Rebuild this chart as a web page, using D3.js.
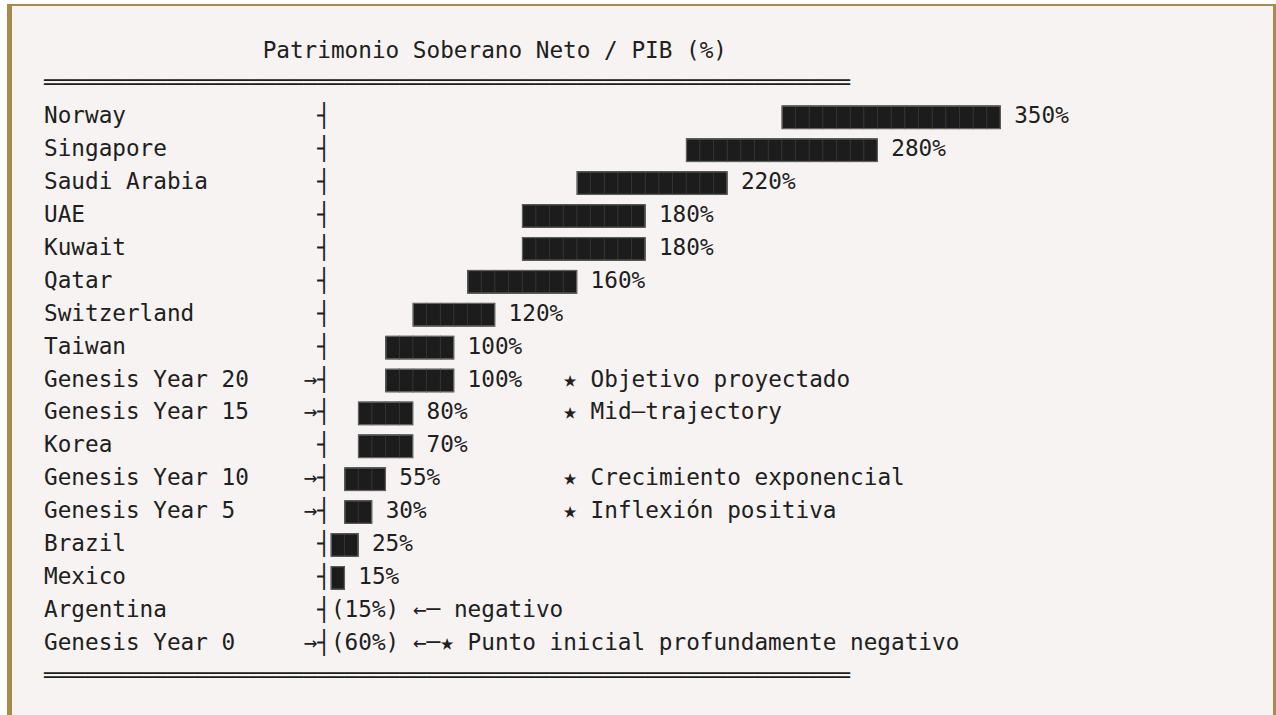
<!DOCTYPE html>
<html>
<head>
<meta charset="utf-8">
<script src="https://cdn.jsdelivr.net/npm/d3@7"></script>
<style>
    body { margin: 0; background: #ffffff; }
    svg { display: block; }
    text { font-family: "DejaVu Sans Mono", monospace; font-size: 22.7px; fill: #202020; white-space: pre; }
</style>
</head>
<body>
<svg></svg>
<script>
// *** Data ***
var title = "Patrimonio Soberano Neto / PIB (%)";
var countries = ["Norway", "Singapore", "Saudi Arabia", "UAE", "Kuwait", "Qatar", "Switzerland", "Taiwan",
    "Genesis Year 20", "Genesis Year 15", "Korea", "Genesis Year 10", "Genesis Year 5", "Brazil", "Mexico",
    "Argentina", "Genesis Year 0"];
var values = [350, 280, 220, 180, 180, 160, 120, 100, 100, 80, 70, 55, 30, 25, 15, -15, -60];
var blocks = [16, 14, 11, 9, 9, 8, 6, 5, 5, 4, 4, 3, 2, 2, 1, 0, 0]; // number of █ cells per bar
var offsets = [33, 26, 18, 14, 14, 10, 6, 4, 4, 2, 2, 1, 1, 0, 0, 0, 0]; // leading blank cells before the bar
var notes = ["", "", "", "", "", "", "", "", "★ Objetivo proyectado", "★ Mid–trajectory", "",
    "★ Crecimiento exponencial", "★ Inflexión positiva", "", "", "←─ negativo",
    "←─★ Punto inicial profundamente negativo"];

var svgWidth = 1276, svgHeight = 715;
var lineHeight = 32.9, axisCol = 20, noteCol = 38, ruleLength = 59;

var svg = d3.select("svg")
    .attr("width", svgWidth)
    .attr("height", svgHeight);

// panel with gold border (left, top, right)
svg.append("rect").attr("x", 7).attr("y", 4).attr("width", 1269).attr("height", 711).attr("fill", "#a88a4b");
svg.append("rect").attr("x", 12).attr("y", 6).attr("width", 1261).attr("height", 709).attr("fill", "#f6f3f2");

// column -> x pixel (monospace cells), line -> baseline
var x = d3.scaleLinear().domain([0, 1]).range([44, 44 + 13.665]);
var line = d3.scaleLinear().domain([0, 1]).range([57.5, 57.5 + lineHeight]);
var y = d3.scalePoint()
    .domain(countries)
    .range([line(2), line(2 + countries.length - 1)]);

var rows = countries.map(function (d, i) {
    return { name: d, value: values[i], blocks: blocks[i], offset: offsets[i], note: notes[i] };
});

// title and double rules
svg.append("text").attr("x", x(16)).attr("y", line(0)).text(title);
[1, 2 + countries.length].forEach(function (l) {
    svg.append("text").attr("x", x(0)).attr("y", line(l)).text("═".repeat(ruleLength));
});

var g = svg.selectAll("g.row")
    .data(rows)
    .enter()
    .append("g")
    .attr("class", "row");

// category labels
g.append("text")
    .attr("x", x(0))
    .attr("y", function (d) { return y(d.name); })
    .text(function (d) { return d.name; });

// axis tick (with arrow for the Genesis trajectory)
g.append("text")
    .attr("x", x(axisCol - 1))
    .attr("y", function (d) { return y(d.name); })
    .text(function (d) { return (d.name.indexOf("Genesis") === 0 ? "→" : " ") + "┤"; });

// bars, one rect per block cell
var cellW = x(1) - x(0);
g.selectAll("rect.cell")
    .data(function (d) {
        return d3.range(d.blocks).map(function (k) { return { row: d, col: axisCol + 1 + d.offset + k }; });
    })
    .enter()
    .append("rect")
    .attr("class", "cell")
    .attr("x", function (c) { return x(c.col); })
    .attr("y", function (c) { return y(c.row.name) - 17.5; })
    .attr("width", cellW)
    .attr("height", 23)
    .attr("fill", "#1c1c1c")
    .attr("stroke", "#333")
    .attr("stroke-width", 0.8);

// bar outline
g.filter(function (d) { return d.blocks > 0; })
    .append("rect")
    .attr("x", function (d) { return x(axisCol + 1 + d.offset) + 0.4; })
    .attr("y", function (d) { return y(d.name) - 17.1; })
    .attr("width", function (d) { return d.blocks * cellW - 0.8; })
    .attr("height", 22.2)
    .attr("fill", "none")
    .attr("stroke", "#6e6e6e")
    .attr("stroke-width", 0.8);

// value labels
function labelCol(d) {
    return d.value < 0 ? axisCol + 1 : axisCol + 1 + d.offset + d.blocks + 1;
}
function labelText(d) {
    return d.value < 0 ? "(" + Math.abs(d.value) + "%)" : d.value + "%";
}
g.append("text")
    .attr("x", function (d) { return x(labelCol(d)); })
    .attr("y", function (d) { return y(d.name); })
    .text(labelText);

// notes
g.filter(function (d) { return d.note !== ""; })
    .append("text")
    .attr("x", function (d) {
        return d.value < 0 ? x(labelCol(d) + labelText(d).length + 1) : x(noteCol);
    })
    .attr("y", function (d) { return y(d.name); })
    .text(function (d) { return d.note; });
</script>
</body>
</html>
